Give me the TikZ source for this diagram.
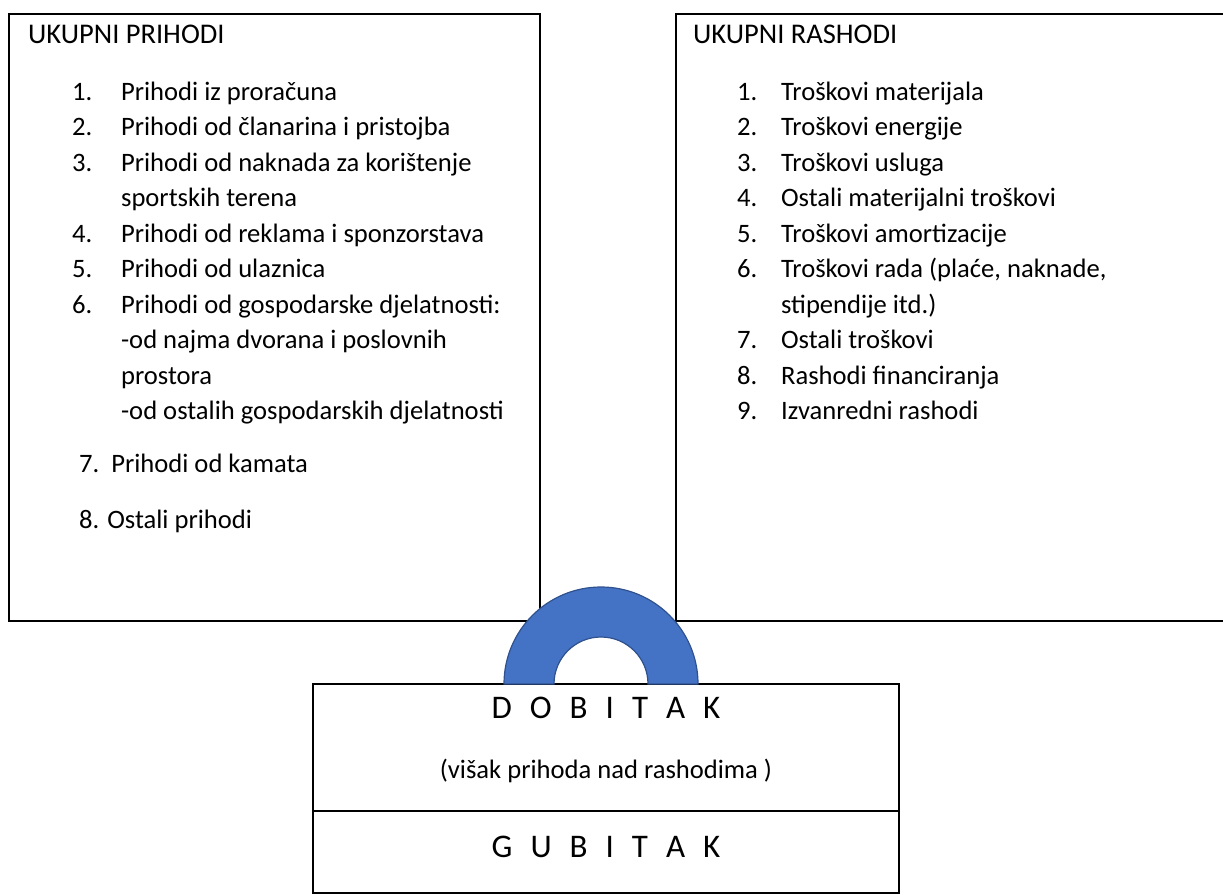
\documentclass[tikz,border=0pt]{standalone}
\usepackage{fontspec}
\setmainfont{Carlito}
\definecolor{archfill}{HTML}{4472C4}
\definecolor{archline}{HTML}{2F528F}

\begin{document}
\begin{tikzpicture}[x=1pt,y=-1pt,line width=2.2pt,
  txt/.style={anchor=base west,inner sep=0pt,font=\fontsize{26.6}{32}\selectfont},
  head/.style={anchor=base west,inner sep=0pt,font=\fontsize{28.5}{34}\selectfont},
  big/.style={anchor=base,inner sep=0pt,font=\fontsize{33}{40}\selectfont}]
\useasboundingbox (0,0) rectangle (1223,894);

% prihodi
\draw[] (9,14) rectangle (540,621);
\node[head] (phead) at (27,43) {UKUPNI PRIHODI};
\node[txt] (pn1) at (71,100) {1.};
\node[txt] (p1) at (120,100) {Prihodi iz proračuna};
\node[txt] (pn2) at (71,135.5) {2.};
\node[txt] (p2) at (120,135.5) {Prihodi od članarina i pristojba};
\node[txt] (pn3) at (71,171) {3.};
\node[txt] (p3) at (120,171) {Prihodi od naknada za korištenje};
\node[txt] (p3b) at (120,206.5) {sportskih terena};
\node[txt] (pn4) at (71,242) {4.};
\node[txt] (p4) at (120,242) {Prihodi od reklama i sponzorstava};
\node[txt] (pn5) at (71,277.5) {5.};
\node[txt] (p5) at (120,277.5) {Prihodi od ulaznica};
\node[txt] (pn6) at (71,313) {6.};
\node[txt] (p6) at (120,313) {Prihodi od gospodarske djelatnosti:};
\node[txt] (p6b) at (120,348.5) {-od najma dvorana i poslovnih};
\node[txt] (p6c) at (120,384) {prostora};
\node[txt] (p6d) at (120,419.5) {-od ostalih gospodarskih djelatnosti};
\node[txt] (p7) at (78,472) {7.\ \ Prihodi od kamata};
\node[txt] (p8) at (78,528) {8. Ostali prihodi};

% rashodi
\draw[] (1230,14) -- (676,14) -- (676,621) -- (1230,621);
\node[head] (rhead) at (692,43) {UKUPNI RASHODI};
\node[txt] (rn1) at (736,100) {1.};
\node[txt] (r1) at (780,100) {Troškovi materijala};
\node[txt] (rn2) at (736,135.5) {2.};
\node[txt] (r2) at (780,135.5) {Troškovi energije};
\node[txt] (rn3) at (736,171) {3.};
\node[txt] (r3) at (780,171) {Troškovi usluga};
\node[txt] (rn4) at (736,206.5) {4.};
\node[txt] (r4) at (780,206.5) {Ostali materijalni troškovi};
\node[txt] (rn5) at (736,242) {5.};
\node[txt] (r5) at (780,242) {Troškovi amortizacije};
\node[txt] (rn6) at (736,277.5) {6.};
\node[txt] (r6) at (780,277.5) {Troškovi rada (plaće, naknade,};
\node[txt] (r6b) at (780,313) {stipendije itd.)};
\node[txt] (rn7) at (736,348.5) {7.};
\node[txt] (r7) at (780,348.5) {Ostali troškovi};
\node[txt] (rn8) at (736,384) {8.};
\node[txt] (r8) at (780,384) {Rashodi financiranja};
\node[txt] (rn9) at (736,419.5) {9.};
\node[txt] (r9) at (780,419.5) {Izvanredni rashodi};

% rezultat
\draw[] (313,684) rectangle (899,893);
\draw[] (313,811) -- (899,811);
\node[big] (dobitak) at (606,718) {\spaceskip=18pt D O B I T A K};
\node[txt,anchor=base] (visak) at (606,778) {(višak prihoda nad rashodima )};
\node[big] (gubitak) at (606,857) {\spaceskip=18pt G U B I T A K};

\filldraw[fill=archfill,draw=archline,line width=1.2pt] (504,684) arc (180:360:97) -- (648,684) arc (0:-180:47) -- cycle;
\end{tikzpicture}
\end{document}
